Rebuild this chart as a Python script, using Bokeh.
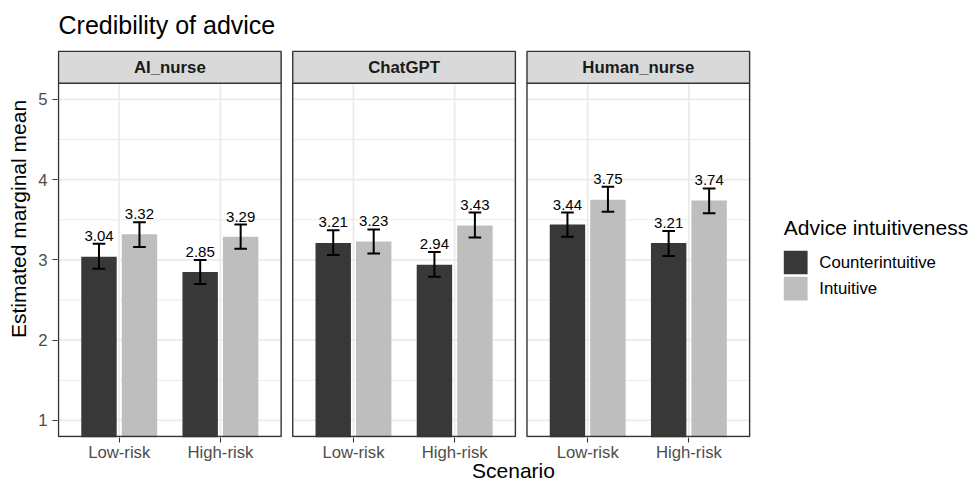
from bokeh.plotting import figure
from bokeh.models import Range1d, FixedTicker, ColumnDataSource
from bokeh.core.properties import value
from bokeh.embed import file_html
from bokeh.resources import INLINE

# ---------------- data ----------------
chart_title = "Credibility of advice"
sources = ["AI_nurse", "ChatGPT", "Human_nurse"]
scenarios = ["Low-risk", "High-risk"]
intuitiveness = ["Counterintuitive", "Intuitive"]

counter_mean = [[3.04, 2.85], [3.21, 2.94], [3.44, 3.21]]
counter_lower = [[2.89, 2.70], [3.06, 2.79], [3.29, 3.05]]
counter_upper = [[3.20, 3.00], [3.37, 3.10], [3.59, 3.36]]

intuitive_mean = [[3.32, 3.29], [3.23, 3.43], [3.75, 3.74]]
intuitive_lower = [[3.16, 3.14], [3.08, 3.28], [3.60, 3.58]]
intuitive_upper = [[3.47, 3.44], [3.38, 3.59], [3.91, 3.89]]

y_ticks = [1, 2, 3, 4, 5]
y_minor = [1.5, 2.5, 3.5, 4.5]
y_limits = (1, 5)
x_title = "Scenario"
y_title = "Estimated marginal mean"
legend_title = "Advice intuitiveness"

# ---------------- style / layout ----------------
FONT = "Liberation Sans"
FILLS = ["#383838", "#bebebe"]
GRID = "#ebebeb"
BORDER = "#333333"
STRIP_FILL = "#d9d9d9"

W, H = 969, 484
LEFT, BOTTOM = 57, 46
FRAME_W, FRAME_H = W - LEFT, H - BOTTOM
span = y_limits[1] - y_limits[0]
Y_LO, Y_HI = y_limits[0] - 0.05 * span, y_limits[1] + 0.05 * span
PANEL_TOP = 83           # px from frame top
PANEL_BOT = FRAME_H - 1  # px from frame top
STRIP_H = 32
PX_X = 101.2
PANEL_W = len(scenarios) + 0.2
GAP = 11.6 / PX_X
PX_Y = (PANEL_BOT - PANEL_TOP) / (Y_HI - Y_LO)


def ydat(py):
    return Y_LO + (PANEL_BOT - py) / PX_Y


def xdat(px):
    # px measured from the left edge of the first panel
    return px / PX_X


panel_left = [k * (PANEL_W + GAP) for k in range(len(sources))]

p = figure(width=W, height=H,
           x_range=Range1d(xdat(-1), xdat(FRAME_W - 1)),
           y_range=Range1d(ydat(FRAME_H), ydat(0)),
           output_backend="svg", toolbar_location=None,
           min_border_left=LEFT, min_border_right=0,
           min_border_top=0, min_border_bottom=BOTTOM)
p.outline_line_color = None
p.xgrid.visible = False
p.ygrid.visible = False
p.background_fill_color = "white"
p.border_fill_color = "white"

# ---------------- gridlines ----------------
mj = dict(x0=[], x1=[], y0=[], y1=[])
mn = dict(x0=[], x1=[], y0=[], y1=[])
for k in range(len(sources)):
    l, r = panel_left[k], panel_left[k] + PANEL_W
    for y in y_ticks:
        mj["x0"].append(l); mj["x1"].append(r); mj["y0"].append(y); mj["y1"].append(y)
    for y in y_minor:
        mn["x0"].append(l); mn["x1"].append(r); mn["y0"].append(y); mn["y1"].append(y)
    for i in range(len(scenarios)):
        xc = l + 0.6 + i
        mj["x0"].append(xc); mj["x1"].append(xc); mj["y0"].append(Y_LO); mj["y1"].append(Y_HI)
p.segment(x0="x0", x1="x1", y0="y0", y1="y1", source=ColumnDataSource(mn),
          line_color=GRID, line_width=1.0)
p.segment(x0="x0", x1="x1", y0="y0", y1="y1", source=ColumnDataSource(mj),
          line_color=GRID, line_width=1.8)

# ---------------- bars ----------------
means = [counter_mean, intuitive_mean]
lowers = [counter_lower, intuitive_lower]
uppers = [counter_upper, intuitive_upper]
dodge = [-0.2, 0.2]
BAR_W = 0.35
CAP = 0.0625
rows = dict(x=[], xl=[], xr=[], top=[], lower=[], upper=[], label=[], color=[])
for k in range(len(sources)):
    for i in range(len(scenarios)):
        for j in range(len(intuitiveness)):
            x = panel_left[k] + 0.6 + i + dodge[j]
            rows["x"].append(x)
            rows["xl"].append(x - CAP)
            rows["xr"].append(x + CAP)
            rows["top"].append(means[j][k][i])
            rows["lower"].append(lowers[j][k][i])
            rows["upper"].append(uppers[j][k][i])
            rows["label"].append(f"{means[j][k][i]:.2f}")
            rows["color"].append(FILLS[j])
src = ColumnDataSource(rows)
p.vbar(x="x", top="top", bottom=0, width=BAR_W, fill_color="color",
       line_color=None, source=src)
p.segment(x0="x", x1="x", y0="lower", y1="upper", line_color="black", line_width=2, source=src)
p.segment(x0="xl", x1="xr", y0="upper", y1="upper", line_color="black", line_width=2, source=src)
p.segment(x0="xl", x1="xr", y0="lower", y1="lower", line_color="black", line_width=2, source=src)
p.text(x="x", y="upper", text="label", source=src, text_align="center",
       text_baseline="middle", y_offset=-8, text_font=value(FONT),
       text_font_size="15px", text_color="black")

# ---------------- panel borders & strips ----------------
pr = [l + PANEL_W for l in panel_left]
p.quad(left=panel_left, right=pr, bottom=Y_LO, top=Y_HI, fill_color=None,
       line_color=BORDER, line_width=1.4)
strip_top = ydat(PANEL_TOP - STRIP_H)
p.quad(left=panel_left, right=pr, bottom=Y_HI, top=strip_top, fill_color=STRIP_FILL,
       line_color=BORDER, line_width=1.4)
p.text(x=[l + PANEL_W / 2 for l in panel_left], y=ydat(PANEL_TOP - STRIP_H / 2),
       text=sources, text_align="center", text_baseline="middle",
       text_font=value(FONT), text_font_size="16.8px", text_font_style="bold",
       text_color="#1a1a1a")

# ---------------- title ----------------
p.text(x=[xdat(0)], y=[ydat(24.3)], text=[chart_title], text_align="left",
       text_baseline="middle", text_font=value(FONT), text_font_size="25px",
       text_color="black")

# ---------------- legend ----------------
LEG_X = 725.3
KEY = 23.8
PITCH = 26.3
KEY_TOP0 = 250.7
p.text(x=[xdat(LEG_X)], y=[ydat(227.5)], text=[legend_title], text_align="left",
       text_baseline="middle", text_font=value(FONT), text_font_size="21px",
       text_color="black")
key_tops = [KEY_TOP0 + j * PITCH for j in range(len(intuitiveness))]
p.quad(left=xdat(LEG_X), right=xdat(LEG_X + KEY),
       top=[ydat(t) for t in key_tops], bottom=[ydat(t + KEY) for t in key_tops],
       fill_color=FILLS, line_color=None)
p.text(x=xdat(LEG_X + KEY + 11.7), y=[ydat(t + KEY / 2) for t in key_tops],
       text=intuitiveness, text_align="left", text_baseline="middle",
       text_font=value(FONT), text_font_size="16.8px", text_color="black")

# ---------------- axes ----------------
tick_pos = []
overrides = {}
for k in range(len(sources)):
    for i, s in enumerate(scenarios):
        t = round(panel_left[k] + 0.6 + i, 6)
        tick_pos.append(t)
        overrides[t] = s

xa = p.xaxis[0]
xa.ticker = FixedTicker(ticks=tick_pos, minor_ticks=[])
xa.major_label_overrides = overrides
xa.bounds = (panel_left[0], pr[-1])
xa.axis_label = x_title
ya = p.yaxis[0]
ya.ticker = FixedTicker(ticks=y_ticks, minor_ticks=[])
ya.bounds = (Y_LO, Y_HI)
ya.axis_label = y_title

for ax in (xa, ya):
    ax.axis_line_color = None
    ax.major_tick_out = 5
    ax.major_tick_in = 0
    ax.minor_tick_out = 0
    ax.minor_tick_in = 0
    ax.major_tick_line_color = BORDER
    ax.major_tick_line_width = 1.1
    ax.major_label_text_font = FONT
    ax.major_label_text_font_size = "16.7px"
    ax.major_label_text_color = "#4d4d4d"
    ax.axis_label_text_font = FONT
    ax.axis_label_text_font_size = "21px"
    ax.axis_label_text_font_style = "normal"
    ax.axis_label_text_color = "black"

xa.major_label_standoff = 0
xa.axis_label_standoff = -6
ya.major_label_standoff = 5
ya.axis_label_standoff = 5

open("out.html", "w").write(file_html(p, INLINE))
